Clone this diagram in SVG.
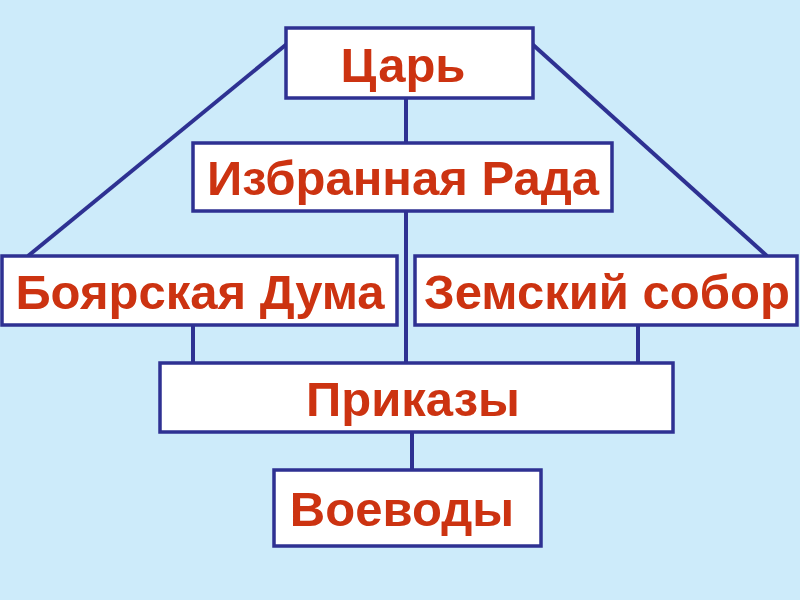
<svg xmlns="http://www.w3.org/2000/svg" width="800" height="600" viewBox="0 0 800 600">
<style>
.box{fill:#ffffff;stroke:#2E3192;stroke-width:3.5}
.ln{stroke:#2E3192;stroke-width:4;fill:none}
.t{font-family:"Liberation Sans",Arial,sans-serif;font-weight:bold;font-size:49px;fill:#CC3311;text-anchor:middle}
</style>
<rect width="800" height="600" fill="#CDEBFA"/>
<g id="connectors">
<line class="ln" x1="288" y1="43" x2="28" y2="256"/>
<line class="ln" x1="531" y1="43" x2="767" y2="256"/>
<line class="ln" x1="406" y1="98" x2="406" y2="143"/>
<line class="ln" x1="406" y1="211" x2="406" y2="363"/>
<line class="ln" x1="193" y1="325" x2="193" y2="363"/>
<line class="ln" x1="638" y1="325" x2="638" y2="363"/>
<line class="ln" x1="412" y1="432" x2="412" y2="470"/>
</g>
<g id="tsar"><rect class="box" x="286" y="28" width="247" height="70"/><text class="t" x="403" y="82">Царь</text></g>
<g id="rada"><rect class="box" x="193" y="143" width="419" height="68"/><text class="t" x="403" y="195">Избранная Рада</text></g>
<g id="duma"><rect class="box" x="2" y="256" width="395" height="69"/><text class="t" x="200" y="309">Боярская Дума</text></g>
<g id="sobor"><rect class="box" x="415" y="256" width="382" height="69"/><text class="t" x="607" y="309">Земский собор</text></g>
<g id="prikazy"><rect class="box" x="160" y="363" width="513" height="69"/><text class="t" x="413" y="416">Приказы</text></g>
<g id="voevody"><rect class="box" x="274" y="470" width="267" height="76"/><text class="t" x="402" y="526">Воеводы</text></g>
</svg>
